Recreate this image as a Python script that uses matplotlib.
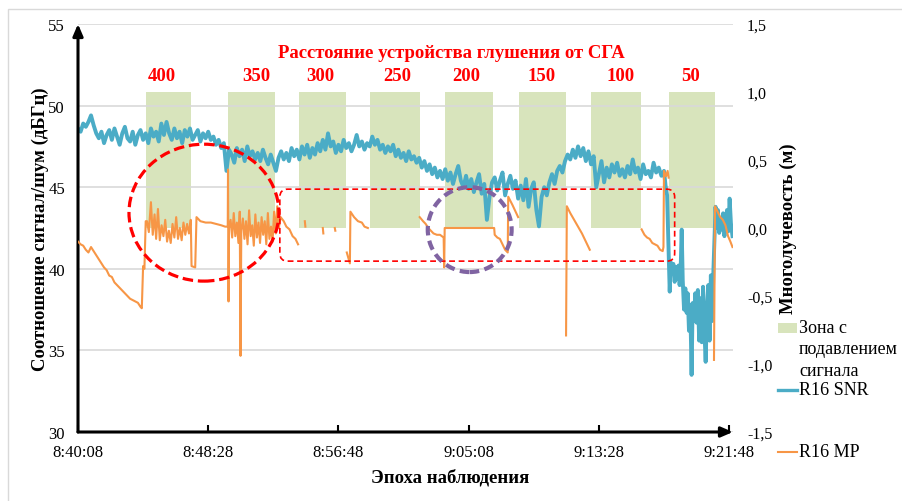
import numpy as np
import matplotlib
matplotlib.use('Agg')
import matplotlib.pyplot as plt
from matplotlib.patches import Rectangle, Ellipse, FancyBboxPatch
from matplotlib.lines import Line2D

plt.rcParams['font.family'] = ['Liberation Serif', 'DejaVu Serif']

# ---- data (time in seconds since 8:40:08) ----
tick_seconds = [0, 500, 1000, 1500, 2000, 2500]
tick_labels = ['8:40:08', '8:48:28', '8:56:48', '9:05:08', '9:13:28', '9:21:48']

left_ticks = [30, 35, 40, 45, 50, 55]
right_ticks = [-1.5, -1.0, -0.5, 0.0, 0.5, 1.0, 1.5]
right_labels = ['-1,5', '-1,0', '-0,5', '0,0', '0,5', '1,0', '1,5']

zone_start = [261, 576, 848, 1120, 1408, 1692, 1968, 2268]
zone_end = [434, 756, 1028, 1312, 1592, 1873, 2160, 2444]
zone_top_m = 1.0
distances = ['400', '350', '300', '250', '200', '150', '100', '50']
distance_t = [322, 683, 932, 1224, 1489, 1780, 2083, 2352]

snr_time = list(range(0, 2250, 10)) + [
    2250, 2256, 2262, 2268, 2272, 2276, 2281, 2286, 2291, 2296,
    2301, 2306, 2310, 2314, 2318, 2322, 2327, 2332, 2337, 2341,
    2346, 2351, 2356, 2360, 2365, 2370, 2375, 2380, 2385, 2390,
    2395, 2400, 2405, 2410, 2415, 2420, 2425, 2430, 2435, 2440,
    2444, 2448, 2452, 2457, 2462, 2467, 2472, 2477, 2482, 2487,
    2492, 2497, 2502, 2507, 2513]
snr_db = [
    48.6, 48.4, 48.9, 48.7, 49.0, 49.4, 48.8, 48.3, 48.0, 48.4,
    47.7, 48.2, 48.5, 47.9, 48.6, 48.1, 47.6, 48.3, 48.7, 48.0,
    47.8, 48.4, 47.6, 48.2, 48.5, 47.9, 48.3, 47.7, 48.6, 48.1,
    48.4, 47.8, 48.9, 48.2, 49.0, 48.3, 47.9, 48.6, 48.0, 48.4,
    47.7, 48.5, 48.1, 48.6, 47.9, 48.2, 48.5, 47.8, 48.3, 48.0,
    48.4, 47.9, 48.1, 47.6, 47.9, 47.4, 47.7, 46.0, 47.3, 47.0,
    46.5, 47.4, 46.9, 47.3, 46.6, 47.5, 46.9, 47.2, 46.7, 47.1,
    46.6, 47.3, 46.8, 46.4, 47.0, 46.5, 46.0, 46.8, 47.2, 46.7,
    47.1, 46.6, 47.4, 46.9, 47.3, 46.7, 47.5, 47.0, 47.6, 46.8,
    47.4, 47.0, 47.7, 47.2, 47.9, 47.3, 48.3, 47.5, 47.8, 47.1,
    47.6, 47.2, 47.9, 47.4, 47.7, 47.2, 47.6, 48.2, 47.5, 47.8,
    47.3, 47.7, 47.5, 48.1, 47.6, 47.9, 47.3, 47.6, 47.1, 47.5,
    47.2, 47.6, 46.9, 47.3, 46.8, 47.1, 46.6, 47.2, 46.7, 46.9,
    46.5, 46.8, 46.2, 46.6, 46.0, 46.4, 45.8, 46.2, 45.6, 46.0,
    45.5, 46.1, 45.4, 45.9, 45.2, 45.8, 46.3, 45.4, 45.0, 45.7,
    44.9, 45.5, 44.7, 45.3, 45.8, 44.6, 45.2, 43.0, 44.4, 45.3,
    45.6, 44.8, 45.4, 45.9, 44.5, 45.2, 45.7, 44.9, 45.4, 44.3,
    45.1, 44.2, 45.5, 43.8, 44.9, 45.3, 43.6, 42.6, 44.4, 45.0,
    44.5, 45.3, 45.8, 45.2, 46.0, 46.3, 45.9, 46.6, 47.0, 46.7,
    47.3, 46.8, 47.5, 46.9, 47.4, 46.6, 47.2, 46.4, 46.9, 45.0,
    45.8, 46.6, 45.3, 46.2, 45.6, 46.4, 45.9, 46.5, 45.7, 46.1,
    45.6, 46.3, 45.8, 46.7, 45.9, 46.2, 45.5, 46.4, 45.8, 46.0,
    45.6, 46.5, 45.9, 46.2, 45.7,
    46.0, 45.1, 44.5, 41.0, 38.6, 40.4, 39.8, 40.3, 39.2, 40.1,
    39.4, 40.2, 39.0, 40.0, 42.4, 39.3, 37.5, 38.8, 37.3, 38.5,
    36.2, 37.8, 33.5, 37.9, 36.8, 38.5, 36.7, 38.7, 35.6, 38.2,
    35.5, 38.9, 36.3, 34.3, 37.5, 39.0, 35.6, 39.6, 36.8, 40.0,
    42.0, 43.8, 42.5, 43.6, 42.2, 43.0, 42.4, 43.4, 42.0, 42.8,
    43.6, 42.3, 44.3, 42.8, 42.0]

nan = np.nan
mp_time = [
    0, 10, 20, 30, 40, 50, 60, 70, 80, 90, 100, 110, 120, 130, 140, 150,
    160, 170, 180, 190, 200, 210, 220, 230, 240, 245, 250, 255, 260,
    265, 272, 280, 287, 294, 300, 307, 314, 321, 328, 335, 342, 349, 356,
    363, 370, 377, 384, 391, 398, 405, 412, 419, 426, 433,
    436, 450, 455, 470, 490, 510, 530, 550, 565, 573,
    575, 576, 578, 580,
    586, 592, 598, 604, 610, 616, 621, 624, 627, 633, 639, 645, 651, 657,
    663, 669, 675, 681, 687, 693, 699, 705, 711, 717, 723, 729, 735, 741,
    747, 753, 759, 765, 771,
    778, 790, 800, 812, 824, 835, 845, 850,
    871, 873, 875, 940, 942, 944, 986, 988, 990,
    1032, 1044, 1046, 1060, 1075, 1090, 1100, 1113, 1115,
    1312, 1325, 1335, 1345, 1355, 1365, 1378, 1390, 1404, 1406, 1408, 1598,
    1600, 1610, 1620, 1630, 1640, 1650, 1652, 1668, 1680, 1690, 1692,
    1874, 1877, 1890, 1905, 1920, 1935, 1950, 1965, 1967,
    2164, 2175, 2185, 2195, 2205, 2215, 2225, 2235, 2245, 2248, 2250,
    2258, 2264, 2268, 2270,
    2442, 2446, 2456, 2466, 2476, 2486, 2496, 2505, 2513]
mp_m = [
    -0.10, -0.12, -0.13, -0.16, -0.18, -0.14, -0.17, -0.20, -0.23, -0.26,
    -0.29, -0.31, -0.35, -0.36, -0.40, -0.42, -0.44, -0.46, -0.48, -0.50,
    -0.52, -0.53, -0.54, -0.55, -0.58, -0.59, -0.28, -0.30, 0.05,
    0.05, -0.03, 0.19, -0.05, 0.10, -0.08, 0.14, -0.09, 0.02, -0.06, 0.06,
    -0.10, -0.02, -0.11, 0.03, -0.07, 0.08, -0.08, 0.00, -0.09, 0.04, -0.05,
    0.03, -0.04, 0.06,
    -0.28, -0.29, 0.08, 0.05, 0.04, 0.04, 0.03, 0.02, 0.01, 0.01,
    0.01, 0.43, -0.54, 0.00,
    0.06, -0.07, 0.11, -0.06, 0.04, -0.11, 0.12, -0.94, -0.02, 0.07, -0.08,
    0.05, -0.12, 0.13, -0.06, 0.02, -0.13, 0.10, -0.07, 0.04, -0.11, 0.08,
    -0.05, 0.05, -0.12, 0.11, -0.08, 0.01, -0.10, 0.12, -0.04, 0.16, 0.00,
    0.08, 0.05, 0.01, -0.01, -0.06, -0.08, -0.12, nan,
    0.05, 0.01, nan, 0.00, -0.04, nan, 0.00, -0.02, nan,
    -0.18, -0.26, 0.12, 0.08, 0.05, 0.04, 0.01, 0.00, nan,
    0.08, 0.05, 0.03, 0.00, -0.02, -0.04, -0.05, -0.05, -0.07, -0.29, 0.00, 0.00,
    -0.05, -0.07, -0.08, -0.12, -0.16, -0.18, 0.23, 0.17, 0.12, 0.08, nan,
    -0.79, 0.16, 0.11, 0.06, 0.01, -0.04, -0.10, -0.16, nan,
    -0.01, -0.05, -0.07, -0.08, -0.11, -0.12, -0.13, -0.16, -0.17, -0.14, 0.42,
    0.38, 0.42, 0.37, nan,
    -0.97, 0.16, 0.12, 0.08, 0.06, 0.02, -0.06, -0.10, -0.14]

# ---- styling ----
C_SNR = '#4bacc6'
C_MP = '#f79646'
C_ZONE = '#d8e4bc'
C_GRID = '#d9d9d9'
C_RED = '#ff0000'
C_PURPLE = '#8064a2'

W, H = 903, 502
fig = plt.figure(figsize=(W / 100, H / 100), dpi=100)
ax = fig.add_axes([78 / W, 69 / H, 655 / W, 408 / H])
ax2 = ax.twinx()

ax.set_xlim(0, 2515)
ax.set_ylim(30, 55)
ax2.set_ylim(-1.5, 1.5)

# zones (drawn on left axes, positioned in right-axis units)
for s, e in zip(zone_start, zone_end):
    ax.add_patch(Rectangle((s, 0), e - s, zone_top_m, transform=ax2.transData,
                           facecolor=C_ZONE, edgecolor='none', zorder=1))

ax.plot(snr_time, snr_db, color=C_SNR, lw=2.8, zorder=3, solid_joinstyle='round')
ax2.plot(mp_time, mp_m, color=C_MP, lw=1.5, zorder=3)

# grid
ax.set_yticks(left_ticks)
ax.yaxis.grid(True, color=C_GRID, lw=1.2, zorder=1.5)
ax.set_axisbelow('line')

# axes styling
for sp in ax.spines.values():
    sp.set_visible(False)
for sp in ax2.spines.values():
    sp.set_visible(False)

ax.set_xticks(tick_seconds)
ax.set_xticklabels(tick_labels, fontsize=12)
ax.tick_params(axis='x', direction='in', length=5, width=1.5, pad=9, color='black')
ax.tick_params(axis='y', length=0, pad=9.4, labelsize=12)
ax2.set_yticks(right_ticks)
ax2.set_yticklabels(right_labels, fontsize=11.5)
ax2.tick_params(axis='y', length=0, pad=10)

# axis arrows
ax.annotate('', xy=(0, 1.0), xytext=(0, 0), xycoords='axes fraction',
            arrowprops=dict(arrowstyle='-|>,head_length=0.7,head_width=0.3',
                            lw=2.2, color='black', shrinkA=0, shrinkB=0))
ax.annotate('', xy=(1.0, 0), xytext=(0, 0), xycoords='axes fraction',
            arrowprops=dict(arrowstyle='-|>,head_length=0.7,head_width=0.3',
                            lw=2.2, color='black', shrinkA=0, shrinkB=0))

# labels
ax.set_ylabel('Соотношение сигнал/шум (дБГц)', fontsize=13.5, fontweight='bold')
ax.yaxis.set_label_coords(-38 / 655, 0.5)
ax2.set_ylabel('Многолучевость (м)', fontsize=13.5, fontweight='bold')
ax2.yaxis.set_label_coords(710 / 655, 0.5)
ax.set_xlabel('Эпоха наблюдения', fontsize=13.5, fontweight='bold')
ax.xaxis.set_label_coords(372 / 655, -45 / 408)
ax.xaxis.label.set_va('center')
ax.yaxis.label.set_va('center')
ax2.yaxis.label.set_va('center')

# distance annotations
ax2.text(1435, 53.27, 'Расстояние устройства глушения от СГА', transform=ax.transData,
         color=C_RED, fontsize=13.5, fontweight='bold', ha='center', va='center', zorder=6)
for lab, t in zip(distances, distance_t):
    ax2.text(t, 51.86, lab, transform=ax.transData, color=C_RED, fontsize=13.5,
             fontweight='bold', ha='center', va='center', zorder=6)

# highlight shapes
ax2.add_patch(Ellipse((483.5, 43.44), 575.5, 8.39, transform=ax.transData, fill=False,
                      edgecolor=C_RED, lw=2.3, linestyle=(0, (3.3, 1.5)), zorder=5))
ax2.add_patch(FancyBboxPatch((775, 40.47), 2291 - 775, 44.88 - 40.47,
                             boxstyle='round,pad=0,rounding_size=30',
                             mutation_aspect=0.01596, transform=ax.transData,
                             fill=False, edgecolor=C_RED, lw=1.2,
                             linestyle=(0, (3.5, 2.2)), zorder=5))
ax2.add_patch(Ellipse((1504, 42.40), 322, 5.2, transform=ax.transData, fill=False,
                      edgecolor=C_PURPLE, lw=3.0, linestyle=(0, (2.3, 1.3)), zorder=5))

# legend (manual)
def fx(px):
    return px / W


def fy(py):
    return 1 - py / H


fig.add_artist(Rectangle((fx(778), fy(334)), fx(797) - fx(778), fy(324) - fy(334),
                         transform=fig.transFigure, facecolor=C_ZONE, edgecolor='none'))
for txt, py in [('Зона с', 329), ('подавлением', 350), ('сигнала', 371)]:
    fig.text(fx(799), fy(py), txt, fontsize=13, ha='left', va='center')
fig.add_artist(Line2D([fx(778), fx(797)], [fy(391), fy(391)], transform=fig.transFigure,
                      color=C_SNR, lw=2.4))
fig.text(fx(799), fy(391), 'R16 SNR', fontsize=13, ha='left', va='center')
fig.add_artist(Line2D([fx(778), fx(797)], [fy(453), fy(453)], transform=fig.transFigure,
                      color=C_MP, lw=1.5))
fig.text(fx(799), fy(453), 'R16 MP', fontsize=13, ha='left', va='center')

# outer chart frame
fig.add_artist(Rectangle((fx(8), -0.2), 1.2, fy(10) + 0.2, transform=fig.transFigure,
                         fill=False, edgecolor=C_GRID, lw=1.0))

fig.savefig('out.png', dpi=100)
